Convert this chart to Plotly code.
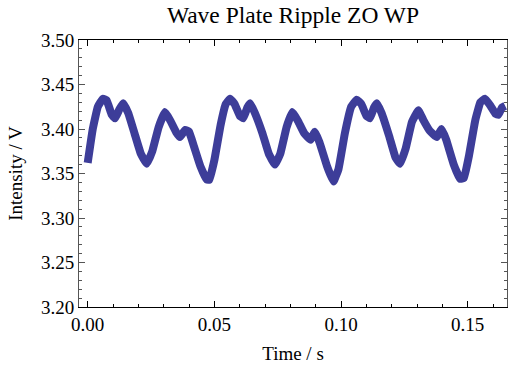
import plotly.graph_objects as go

time_s = [0.0000, 0.0020, 0.0040, 0.0060, 0.0075, 0.0095, 0.0108, 0.0125, 0.0140, 0.0160,
          0.0185, 0.0210, 0.0233, 0.0255, 0.0280, 0.0305, 0.0325, 0.0350, 0.0364, 0.0385,
          0.0400, 0.0420, 0.0445, 0.0470, 0.0480, 0.0500, 0.0525, 0.0545, 0.0562, 0.0580,
          0.0600, 0.0614, 0.0630, 0.0641, 0.0660, 0.0690, 0.0715, 0.0739, 0.0760, 0.0785,
          0.0808, 0.0830, 0.0855, 0.0880, 0.0897, 0.0915, 0.0945, 0.0970, 0.0990, 0.1015,
          0.1040, 0.1062, 0.1080, 0.1100, 0.1114, 0.1130, 0.1141, 0.1160, 0.1190, 0.1215,
          0.1233, 0.1255, 0.1280, 0.1305, 0.1325, 0.1350, 0.1378, 0.1397, 0.1415, 0.1445,
          0.1470, 0.1485, 0.1505, 0.1530, 0.1550, 0.1568, 0.1590, 0.1610, 0.1621, 0.1635,
          0.1648]
intensity_v = [3.362, 3.400, 3.425, 3.434, 3.432, 3.416, 3.412, 3.422, 3.429, 3.418,
               3.395, 3.372, 3.361, 3.375, 3.402, 3.419, 3.410, 3.396, 3.391, 3.399,
               3.397, 3.380, 3.358, 3.343, 3.343, 3.365, 3.405, 3.428, 3.434, 3.428,
               3.415, 3.412, 3.424, 3.429, 3.418, 3.395, 3.372, 3.360, 3.372, 3.402,
               3.419, 3.409, 3.395, 3.388, 3.397, 3.385, 3.358, 3.341, 3.355, 3.395,
               3.425, 3.433, 3.428, 3.415, 3.412, 3.424, 3.429, 3.418, 3.392, 3.368,
               3.361, 3.378, 3.408, 3.421, 3.410, 3.398, 3.391, 3.400, 3.388, 3.360,
               3.344, 3.345, 3.370, 3.410, 3.430, 3.434, 3.426, 3.417, 3.416, 3.424,
               3.426]

x_ticks = [0.00, 0.05, 0.10, 0.15]
x_labels = ["0.00", "0.05", "0.10", "0.15"]
y_ticks = [3.20, 3.25, 3.30, 3.35, 3.40, 3.45, 3.50]
y_labels = ["3.20", "3.25", "3.30", "3.35", "3.40", "3.45", "3.50"]

font_family = "Liberation Serif, Times New Roman, serif"

fig = go.Figure()
fig.add_trace(go.Scatter(
    x=time_s, y=intensity_v, mode="lines",
    line=dict(color="#3d3d99", width=8, shape="spline", smoothing=0.3),
    showlegend=False, hoverinfo="skip"))

fig.update_layout(
    width=510, height=370,
    margin=dict(l=79, r=3, t=40, b=63),
    paper_bgcolor="white", plot_bgcolor="white",
    font=dict(family=font_family, color="black", size=19),
    title=dict(text="Wave Plate Ripple ZO WP", x=0.5, xref="paper", xanchor="center",
               y=1 - 15 / 370, yanchor="middle", font=dict(size=23.5, family=font_family)),
    xaxis=dict(
        range=[-0.00343, 0.16551], tickmode="array", tickvals=x_ticks, ticktext=x_labels,
        ticks="inside", ticklen=6, tickwidth=1, tickcolor="black",
        showline=True, linecolor="black", linewidth=1, mirror="allticks",
        showgrid=False, zeroline=False,
        minor=dict(ticks="inside", ticklen=3, dtick=0.01, tick0=0, tickcolor="black", showgrid=False),
        title=dict(text="Time / s", standoff=12, font=dict(size=19)),
        tickfont=dict(size=19),
    ),
    yaxis=dict(
        range=[3.20, 3.50], tickmode="array", tickvals=y_ticks, ticktext=y_labels,
        ticks="inside", ticklen=6, tickwidth=1, tickcolor="#555555",
        showline=True, linecolor="#555555", linewidth=1, mirror="allticks",
        showgrid=False, zeroline=False,
        minor=dict(ticks="inside", ticklen=3, dtick=0.01, tick0=3.2, tickcolor="#555555", showgrid=False),
        title=dict(text="Intensity / V", standoff=13, font=dict(size=19)),
        tickfont=dict(size=19),
    ),
)

fig.write_html("out.html")
